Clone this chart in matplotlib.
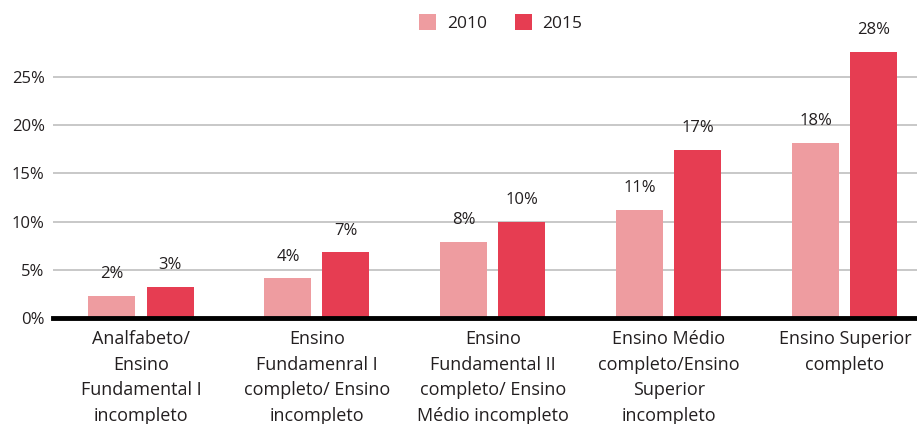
import matplotlib
matplotlib.use('Agg')
import matplotlib.pyplot as plt
import numpy as np

# data
categories = ['Analfabeto/\nEnsino\nFundamental I\nincompleto',
              'Ensino\nFundamenral I\ncompleto/ Ensino\nincompleto',
              'Ensino\nFundamental II\ncompleto/ Ensino\nMédio incompleto',
              'Ensino Médio\ncompleto/Ensino\nSuperior\nincompleto',
              'Ensino Superior\ncompleto']
v2010 = [2.3, 4.1, 7.9, 11.2, 18.2]
v2015 = [3.2, 6.8, 10.0, 17.4, 27.6]
lab2010 = ['2%', '4%', '8%', '11%', '18%']
lab2015 = ['3%', '7%', '10%', '17%', '28%']
yticks = [0, 5, 10, 15, 20, 25]

c2010 = '#EE9CA0'
c2015 = '#E63D52'
txt = '#231F20'

plt.rcParams['font.family'] = ['Open Sans', 'DejaVu Sans']
plt.rcParams['text.color'] = txt

fig = plt.figure(figsize=(9.17, 4.24), dpi=100)
ax = fig.add_axes([53 / 917, 106 / 424, 1 - 53 / 917, 318 / 424])

x = np.arange(len(categories))
w = 0.267
off = 0.165
b1 = ax.bar(x - off, v2010, w, color=c2010, zorder=2, label='2010')
b2 = ax.bar(x + off, v2015, w, color=c2015, zorder=2, label='2015')

for bars, labs in [(b1, lab2010), (b2, lab2015)]:
    for r, s in zip(bars, labs):
        ax.annotate(s, (r.get_x() + r.get_width() / 2, r.get_height()),
                    xytext=(0, 10), textcoords='offset points',
                    ha='center', va='bottom', fontsize=12, color=txt)

ax.set_xlim(-0.5, 4.41)
ax.set_ylim(0, 33.0)
ax.set_yticks(yticks)
ax.set_yticklabels([f'{t}%' for t in yticks], fontsize=12, color=txt)
ax.set_xticks(x)
ax.set_xticklabels(categories, fontsize=13, color=txt, linespacing=1.55)
ax.tick_params(axis='both', length=0)
ax.tick_params(axis='x', pad=8.5)
ax.tick_params(axis='y', pad=6)

ax.grid(axis='y', color='#C8C8C8', linewidth=1.4, zorder=1)
ax.set_axisbelow(True)
for s in ['top', 'right', 'left']:
    ax.spines[s].set_visible(False)
ax.spines['bottom'].set_linewidth(3.5)
ax.spines['bottom'].set_color('black')
ax.spines['bottom'].set_zorder(3)

fig.legend(handles=[b1, b2], loc='center', bbox_to_anchor=(0.546, 0.946),
           ncol=2, frameon=False, fontsize=12.5, handlelength=1.0,
           handleheight=1.0, columnspacing=1.6, handletextpad=0.6)

fig.savefig('out.png', dpi=100)
